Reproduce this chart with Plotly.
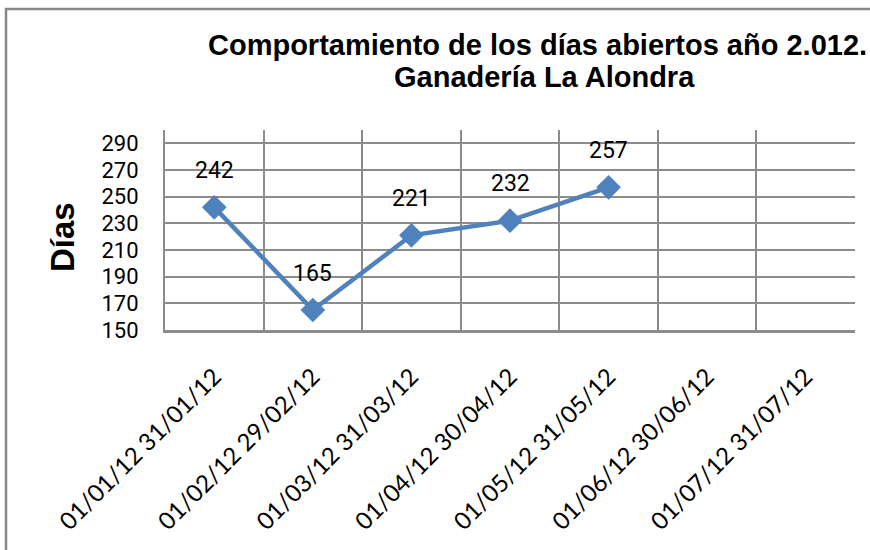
import plotly.graph_objects as go

categories = ["01/01/12 31/01/12", "01/02/12 29/02/12", "01/03/12 31/03/12",
              "01/04/12 30/04/12", "01/05/12 31/05/12", "01/06/12 30/06/12",
              "01/07/12 31/07/12"]
dias = [242, 165, 221, 232, 257, None, None]
y_ticks = [150, 170, 190, 210, 230, 250, 270, 290]
title_lines = ["Comportamiento de los días abiertos año 2.012.", "Ganadería La Alondra"]

W, H = 870, 550
L, R, T, B = 165, 15, 130, 220
pw, ph = W - L - R, H - T - B

def px_x(p):
    return (p - L) / pw

def px_y(p):
    return (H - B - p) / ph

fig = go.Figure()
fig.add_trace(go.Scatter(
    x=categories, y=dias, mode="lines+markers",
    line=dict(color="#4F81BD", width=4.5),
    marker=dict(symbol="diamond", size=19, color="#4F81BD"),
    connectgaps=False, hoverinfo="x+y", showlegend=False,
))

for c, v in zip(categories, dias):
    if v is not None:
        fig.add_annotation(x=c, y=v, text=str(v), showarrow=False,
                           yshift=37, font=dict(family="Roboto", size=23, color="black"))

grid = "#8C8C8C"
fig.update_xaxes(type="category", categoryorder="array", categoryarray=categories,
                 range=[-0.5, 6.5], tickson="boundaries", showgrid=True,
                 gridcolor=grid, gridwidth=2, showline=True, linecolor=grid,
                 linewidth=3, ticks="", tickangle=-45, ticklabelstandoff=20,
                 tickfont=dict(family="Lato", size=24, color="black"),
                 zeroline=False)
fig.update_yaxes(range=[150, 300], tickvals=y_ticks, showgrid=True, gridcolor=grid,
                 gridwidth=2, showline=True, linecolor=grid, linewidth=2,
                 ticks="", ticklabelstandoff=20, zeroline=False,
                 tickfont=dict(family="Roboto", size=22, color="black"))

fig.add_annotation(xref="paper", yref="paper", x=px_x(62), y=px_y(237), text="<b>Días</b>",
                   textangle=-90, showarrow=False, xanchor="center", yanchor="middle",
                   font=dict(family="Arial, Liberation Sans", size=33, color="black"))

for line, cx, cy in zip(title_lines, [537, 544], [45, 77]):
    fig.add_annotation(xref="paper", yref="paper", x=px_x(cx), y=px_y(cy),
                       text="<b>" + line + "</b>", showarrow=False,
                       xanchor="center", yanchor="middle",
                       font=dict(family="Arial, Liberation Sans", size=29, color="black"))

fig.add_shape(type="rect", xref="paper", yref="paper",
              x0=px_x(6), x1=px_x(890), y0=px_y(570), y1=px_y(9),
              line=dict(color="#878787", width=2.5), fillcolor="rgba(0,0,0,0)", layer="below")

fig.update_layout(
    width=W, height=H,
    margin=dict(l=L, r=R, t=T, b=B, autoexpand=False),
    paper_bgcolor="white", plot_bgcolor="white",
)

fig.write_html("out.html", config={"displayModeBar": False},
               post_script="document.body.style.margin='0';")
